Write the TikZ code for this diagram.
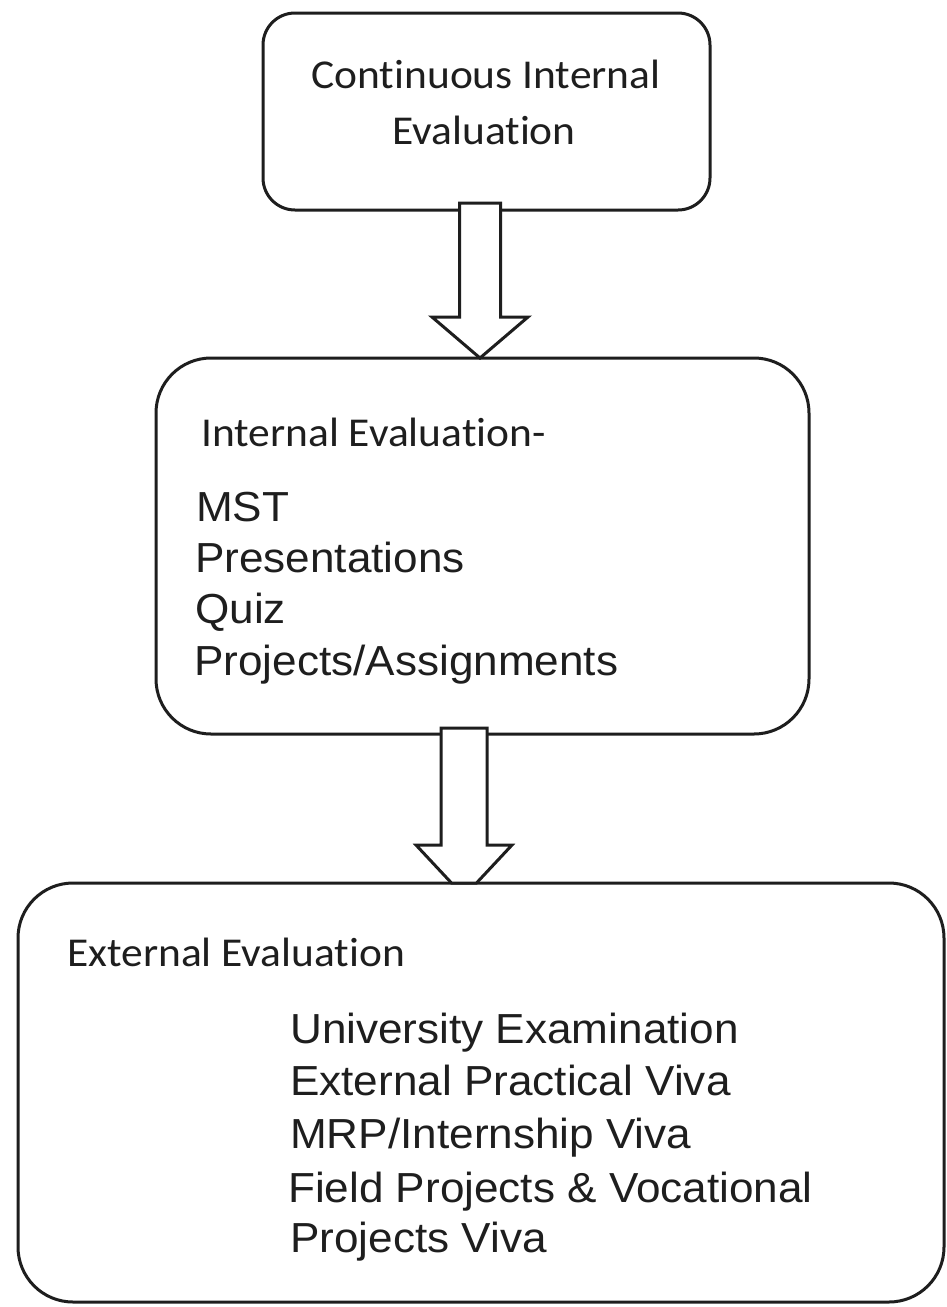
\documentclass[tikz,border=0pt]{standalone}
\usepackage{fontspec}
\newfontfamily\calfont[FakeStretch=1.06,RawFeature=-liga]{Carlito}
\newfontfamily\arifont[FakeStretch=1.05]{Liberation Sans}
\usetikzlibrary{calc}
\definecolor{ink}{HTML}{1E1E1E}
\tikzset{
  box/.style={draw=ink, line width=3pt, fill=white, outer sep=0pt, inner sep=0pt},
  blockarrow/.style={draw=ink, line width=3pt, fill=white, line join=miter},
  headtxt/.style={inner sep=0pt, text=ink, font=\calfont\fontsize{41}{49}\selectfont},
  itemtxt/.style={inner sep=0pt, anchor=base west, text=ink, font=\arifont\fontsize{42}{50}\selectfont},
}
\begin{document}
\begin{tikzpicture}[x=1pt,y=-1pt]
\useasboundingbox (0,0) rectangle (946,1307);
\fill[white] (0,0) rectangle (946,1307);

% boxes
\node[box, rounded corners=32pt, minimum width=447pt, minimum height=197pt] (top) at (486.5,111.5) {};
\node[box, rounded corners=55pt, minimum width=653pt, minimum height=376pt] (mid) at (482.5,546) {};
\node[box, rounded corners=55pt, minimum width=926pt, minimum height=419pt] (bot) at (481,1092.5) {};

% arrow 1
\coordinate (a1s) at ($(top.south)+(-6.5,-7)$);
\coordinate (a1t) at (a1s |- mid.north);
\draw[blockarrow] ($(a1s)+(-20.5,0)$) -- ($(a1s)+(-20.5,114)$) -- ($(a1s)+(-48,114)$)
  -- (a1t) -- ($(a1s)+(48,114)$) -- ($(a1s)+(20.5,114)$) -- ($(a1s)+(20.5,0)$) -- cycle;

% arrow 2
\coordinate (a2s) at ($(mid.south)+(-18.5,-6)$);
\coordinate (a2t) at (a2s |- bot.north);
\draw[blockarrow] ($(a2s)+(-23,0)$) -- ($(a2s)+(-23,117)$) -- ($(a2s)+(-48,117)$)
  -- ($(a2t)+(-12.5,0)$) -- ($(a2t)+(12.5,0)$) -- ($(a2s)+(48,117)$) -- ($(a2s)+(23,117)$) -- ($(a2s)+(23,0)$) -- cycle;

% top box text
\node[headtxt, anchor=base] (t1) at (486,88) {Continuous Internal};
\node[headtxt, anchor=base] (t2) at (484,144) {Evaluation};

% middle box text
\node[headtxt, anchor=base west] (m0) at (201,446) {Internal Evaluation-};
\node[itemtxt] (m1) at (196,521) {MST};
\node[itemtxt] (m2) at (195,572) {Presentations};
\node[itemtxt] (m3) at (195,623) {Quiz};
\node[itemtxt] (m4) at (194,675) {Projects/Assignments};

% bottom box text
\node[headtxt, anchor=base west] (b0) at (67,966) {External Evaluation};
\node[itemtxt] (b1) at (290,1043) {University Examination};
\node[itemtxt] (b2) at (290,1095) {External Practical Viva};
\node[itemtxt] (b3) at (290,1148) {MRP/Internship Viva};
\node[itemtxt] (b4) at (288,1202) {Field Projects \& Vocational};
\node[itemtxt] (b5) at (290,1252) {Projects Viva};
\end{tikzpicture}
\end{document}
